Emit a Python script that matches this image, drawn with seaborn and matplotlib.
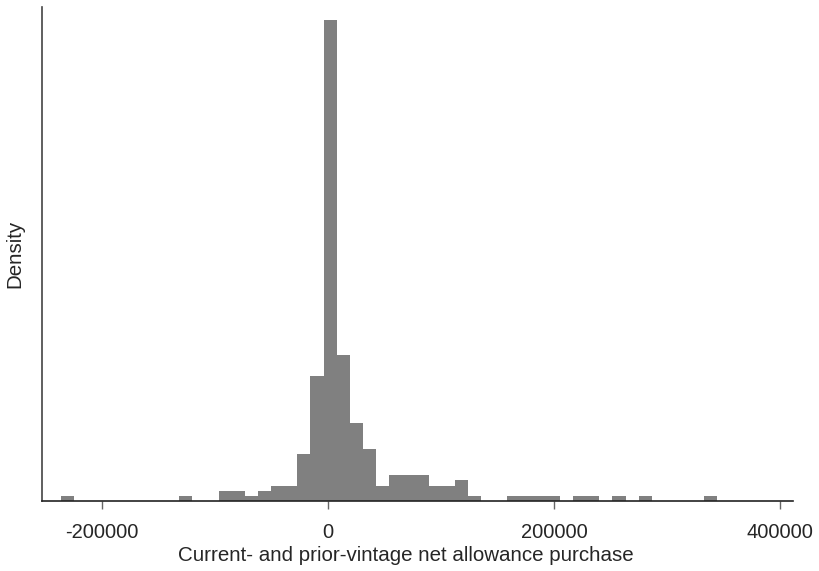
import numpy as np
import pandas as pd
import matplotlib
matplotlib.use("Agg")
import matplotlib.pyplot as plt
import seaborn as sns

# Data (Stata-style histogram, 50 bins)
data_min = -236300
data_max = 344500
n_bins = 50
counts = [1, 0, 0, 0, 0, 0, 0, 0, 0, 1,
          0, 0, 2, 2, 1, 2, 3, 3, 9, 24,
          92, 28, 15, 10, 3, 5, 5, 5, 3, 3,
          4, 1, 0, 0, 1, 1, 1, 1, 0, 1,
          1, 0, 1, 0, 1, 0, 0, 0, 0, 1]
x_ticks = [-200000, 0, 200000, 400000]
x_label = "Current- and prior-vintage net allowance purchase"
y_label = "Density"

edges = [float(e) for e in np.linspace(data_min, data_max, n_bins + 1)]
centers = [(edges[i] + edges[i + 1]) / 2 for i in range(n_bins)]
df = pd.DataFrame({"value": centers, "count": counts})

sns.set_style("white")
plt.rcParams["font.family"] = ["Liberation Sans", "DejaVu Sans"]

fig = plt.figure(figsize=(8.19, 5.71), dpi=100)
ax = fig.add_axes([0.0509, 0.122, 0.9171, 0.866])

sns.histplot(data=df, x="value", weights="count", bins=edges, stat="density",
             color="#808080", alpha=1.0, edgecolor="none", linewidth=0, ax=ax)

width = edges[1] - edges[0]
peak = max(counts) / (sum(counts) * width)
ax.set_ylim(0, peak * 1.028)
ax.set_xlim(-253400, 411200)

ax.set_xticks(x_ticks)
ax.set_xticklabels([str(t) for t in x_ticks], fontsize=14.5)
ax.set_yticks([])
ax.tick_params(axis="x", direction="out", length=5.8, width=1.0, color="#666666",
               pad=9.5, bottom=True)
ax.set_xlabel(x_label, fontsize=14.8)
ax.set_ylabel(y_label, fontsize=14.8)
ax.xaxis.set_label_coords(0.4844, -0.0905)
ax.yaxis.set_label_coords(-0.0225, 0.5)

for s in ["top", "right"]:
    ax.spines[s].set_visible(False)
ax.spines["left"].set_color("#444444")
ax.spines["bottom"].set_color("#222222")
ax.spines["left"].set_linewidth(1.2)
ax.spines["bottom"].set_linewidth(1.2)

fig.savefig("out.png", dpi=100, facecolor="white")
